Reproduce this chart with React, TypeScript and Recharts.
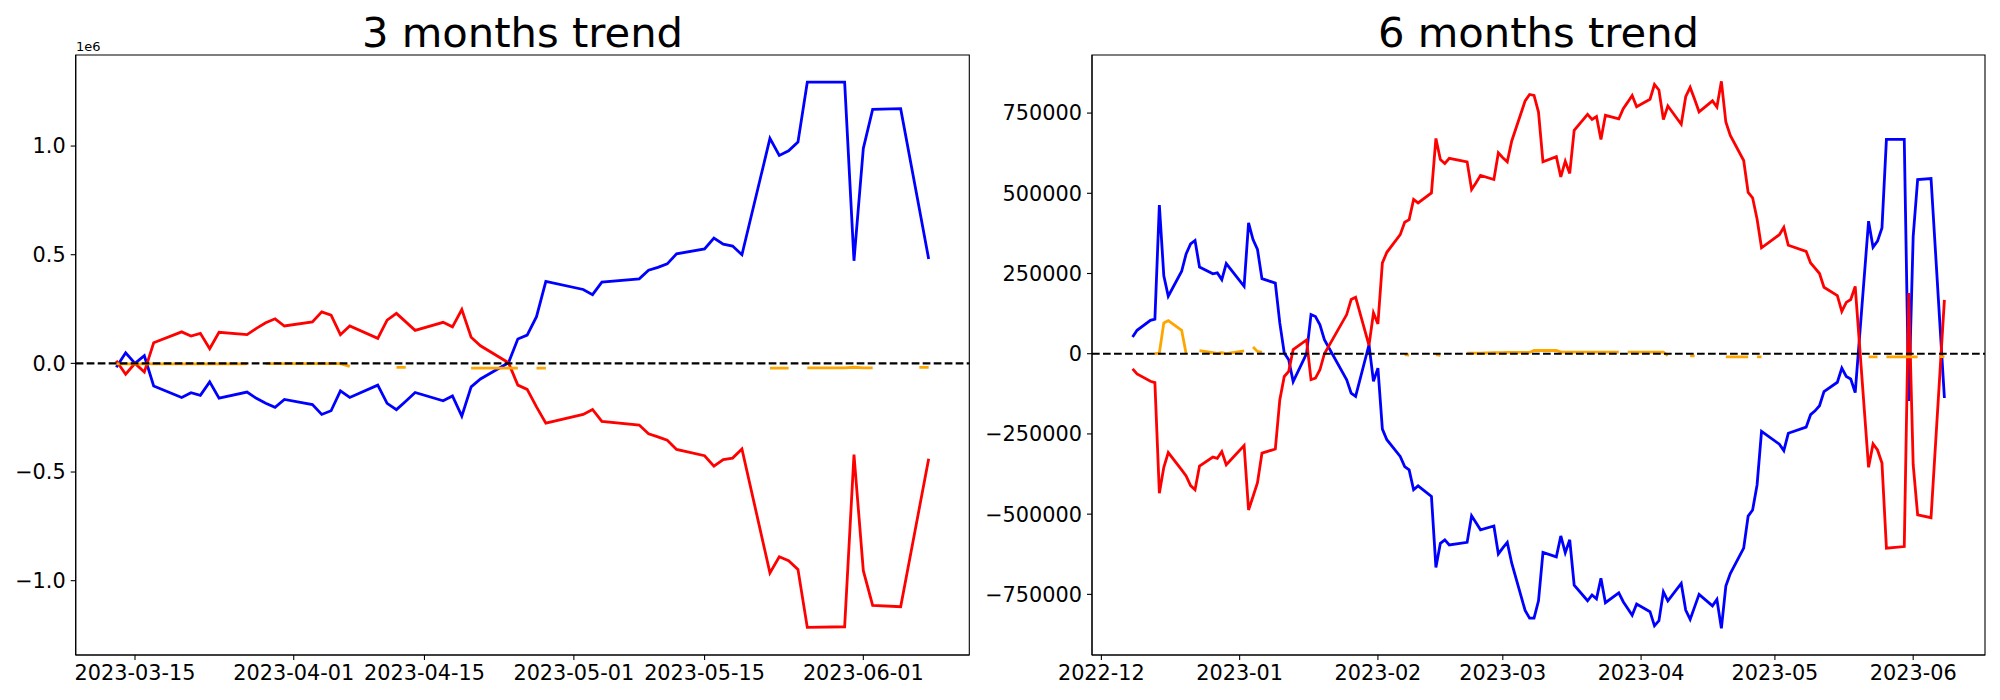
// App.tsx
import { LineChart, Line, XAxis, YAxis, ReferenceLine, ReferenceArea } from 'recharts';

// ---- 3 months trend (business days) ----
const dates3 = [
    '2023-03-13', '2023-03-14', '2023-03-15', '2023-03-16', '2023-03-17',
    '2023-03-20', '2023-03-21', '2023-03-22', '2023-03-23', '2023-03-24',
    '2023-03-27', '2023-03-28', '2023-03-29', '2023-03-30', '2023-03-31',
    '2023-04-03', '2023-04-04', '2023-04-05', '2023-04-06', '2023-04-07',
    '2023-04-10', '2023-04-11', '2023-04-12', '2023-04-13', '2023-04-14',
    '2023-04-17', '2023-04-18', '2023-04-19', '2023-04-20', '2023-04-21',
    '2023-04-24', '2023-04-25', '2023-04-26', '2023-04-27', '2023-04-28',
    '2023-05-02', '2023-05-03', '2023-05-04',
    '2023-05-08', '2023-05-09', '2023-05-10', '2023-05-11', '2023-05-12',
    '2023-05-15', '2023-05-16', '2023-05-17', '2023-05-18', '2023-05-19',
    '2023-05-22', '2023-05-23', '2023-05-24', '2023-05-25', '2023-05-26',
    '2023-05-30', '2023-05-31', '2023-06-01', '2023-06-02',
    '2023-06-05', '2023-06-07', '2023-06-08',
];
const blue3 = [
    -18000, 49000, 0, 35000, -104000,
    -157000, -135000, -147000, -85000, -160000,
    -132000, -161000, -184000, -202000, -166000,
    -190000, -235000, -218000, -127000, -157000,
    -100000, -184000, -213000, -174000, -134000,
    -172000, -150000, -243000, -108000, -72000,
    3000, 112000, 130000, 215000, 377000,
    340000, 316000, 374000,
    389000, 429000, 442000, 458000, 504000,
    527000, 577000, 549000, 540000, 500000,
    1035000, 957000, 978000, 1018000, 1294000,
    1294000, 472000, 989000, 1169000,
    1172000, 711000, 480000,
];
const red3 = [
    12000, -50000, 0, -40000, 95000,
    145000, 126000, 138000, 67000, 143000,
    132000, 161000, 187000, 205000, 172000,
    191000, 237000, 222000, 132000, 172000,
    115000, 199000, 230000, 191000, 152000,
    189000, 168000, 248000, 120000, 81000,
    3000, -100000, -120000, -200000, -275000,
    -235000, -212000, -267000,
    -284000, -324000, -338000, -354000, -396000,
    -425000, -473000, -443000, -436000, -394000,
    -964000, -890000, -908000, -948000, -1215000,
    -1212000, -420000, -954000, -1114000,
    -1120000, -666000, -439000,
];
const orange3 = [
    -2000, -2000, -2000, -2000, -2000,
    -2000, -2000, -2000, -2000, -2000,
    -2000, null, -1000, -1000, -1000,
    -1000, -1000, -1000, -1000, -14000,
    null, null, -18000, -18000, null,
    null, null, null, -22000, -22000,
    -22000, -22000, null, -22000, -22000,
    null, null, null,
    null, null, null, null, null,
    null, null, null, null, null,
    -22000, -22000, -22000, null, -21000,
    -21000, -18000, -21000, -21000,
    null, -18000, -18000,
];

// ---- 6 months trend ----
const dates6 = [
    '2022-12-08', '2022-12-09',
    '2022-12-12', '2022-12-13', '2022-12-14', '2022-12-15', '2022-12-16',
    '2022-12-19', '2022-12-20', '2022-12-21', '2022-12-22', '2022-12-23',
    '2022-12-26', '2022-12-27', '2022-12-28', '2022-12-29',
    '2023-01-02', '2023-01-03', '2023-01-04', '2023-01-05', '2023-01-06',
    '2023-01-09', '2023-01-10', '2023-01-11', '2023-01-12', '2023-01-13',
    '2023-01-16', '2023-01-17', '2023-01-18', '2023-01-19', '2023-01-20',
    '2023-01-25', '2023-01-26', '2023-01-27',
    '2023-01-30', '2023-01-31', '2023-02-01', '2023-02-02', '2023-02-03',
    '2023-02-06', '2023-02-07', '2023-02-08', '2023-02-09', '2023-02-10',
    '2023-02-13', '2023-02-14', '2023-02-15', '2023-02-16', '2023-02-17',
    '2023-02-21', '2023-02-22', '2023-02-23', '2023-02-24',
    '2023-02-27', '2023-02-28', '2023-03-01', '2023-03-02', '2023-03-03',
    '2023-03-06', '2023-03-07', '2023-03-08', '2023-03-09', '2023-03-10',
    '2023-03-13', '2023-03-14', '2023-03-15', '2023-03-16', '2023-03-17',
    '2023-03-20', '2023-03-21', '2023-03-22', '2023-03-23', '2023-03-24',
    '2023-03-27', '2023-03-28', '2023-03-29', '2023-03-30', '2023-03-31',
    '2023-04-03', '2023-04-04', '2023-04-05', '2023-04-06', '2023-04-07',
    '2023-04-10', '2023-04-11', '2023-04-12', '2023-04-13', '2023-04-14',
    '2023-04-17', '2023-04-18', '2023-04-19', '2023-04-20', '2023-04-21',
    '2023-04-24', '2023-04-25', '2023-04-26', '2023-04-27', '2023-04-28',
    '2023-05-02', '2023-05-03', '2023-05-04',
    '2023-05-08', '2023-05-09', '2023-05-10', '2023-05-11', '2023-05-12',
    '2023-05-15', '2023-05-16', '2023-05-17', '2023-05-18', '2023-05-19',
    '2023-05-22', '2023-05-23', '2023-05-24', '2023-05-25', '2023-05-26',
    '2023-05-30', '2023-05-31', '2023-06-01', '2023-06-02',
    '2023-06-05', '2023-06-07', '2023-06-08',
];
const blue6 = [
    52000, 73000,
    104000, 108000, 463000, 243000, 179000,
    257000, 311000, 342000, 353000, 270000,
    249000, 252000, 231000, 281000,
    210000, 408000, 356000, 325000, 234000,
    220000, 96000, 2000, -19000, -87000,
    0, 122000, 116000, 90000, 44000,
    -81000, -123000, -133000,
    28000, -86000, -45000, -235000, -268000,
    -320000, -352000, -362000, -424000, -412000,
    -445000, -666000, -591000, -580000, -596000,
    -588000, -505000, -527000, -549000,
    -537000, -624000, -605000, -588000, -653000,
    -800000, -824000, -824000, -770000, -619000,
    -633000, -568000, -620000, -580000, -721000,
    -770000, -752000, -764000, -700000, -776000,
    -745000, -773000, -794000, -815000, -780000,
    -804000, -848000, -832000, -742000, -770000,
    -716000, -799000, -828000, -789000, -750000,
    -786000, -766000, -856000, -724000, -685000,
    -606000, -506000, -487000, -409000, -242000,
    -282000, -302000, -248000,
    -229000, -190000, -178000, -162000, -118000,
    -89000, -45000, -71000, -79000, -121000,
    413000, 332000, 351000, 392000, 668000,
    668000, -147000, 366000, 543000,
    546000, 90000, -138000,
];
const red6 = [
    -47000, -63000,
    -86000, -90000, -435000, -354000, -308000,
    -362000, -381000, -411000, -424000, -350000,
    -322000, -326000, -305000, -346000,
    -286000, -487000, -445000, -402000, -310000,
    -297000, -144000, -71000, -55000, 13000,
    43000, -81000, -76000, -50000, 0,
    122000, 169000, 176000,
    26000, 127000, 93000, 283000, 316000,
    371000, 410000, 418000, 481000, 470000,
    501000, 671000, 605000, 593000, 609000,
    598000, 512000, 533000, 556000,
    543000, 626000, 611000, 598000, 663000,
    788000, 808000, 805000, 753000, 598000,
    614000, 551000, 600000, 562000, 696000,
    746000, 730000, 739000, 668000, 743000,
    732000, 764000, 784000, 805000, 770000,
    793000, 839000, 822000, 730000, 772000,
    715000, 801000, 830000, 793000, 754000,
    788000, 769000, 849000, 722000, 680000,
    602000, 503000, 486000, 420000, 330000,
    371000, 394000, 338000,
    319000, 283000, 267000, 250000, 207000,
    181000, 132000, 160000, 169000, 210000,
    -354000, -281000, -300000, -341000, -606000,
    -601000, 189000, -346000, -502000,
    -511000, -58000, 168000,
];
const orange6 = [
    null, null,
    null, 0, 2000, 96000, 103000,
    73000, 0, null, null, 10000,
    3000, 1000, 3000, 0,
    9000, null, 21000, 7000, 4000,
    null, null, null, null, null,
    null, null, null, null, null,
    null, null, null,
    null, null, null, null, null,
    null, -3000, -4000, null, null,
    null, -3000, -5000, null, null,
    2000, 2000, 2000, 2000,
    3000, 3000, 3000, 4000, 4000,
    4000, 4000, 10000, 10000, 10000,
    10000, 5000, 5000, 5000, 5000,
    5000, 5000, 5000, 5000, 5000,
    5000, null, 5000, 5000, 5000,
    5000, 5000, 5000, 5000, -6000,
    null, null, -7000, -7000, null,
    null, null, null, -10000, -10000,
    -10000, -10000, null, -10000, -10000,
    null, null, null,
    null, null, null, null, null,
    null, null, null, null, null,
    -10000, -10000, -10000, null, -10000,
    -10000, -10000, -10000, -10000,
    null, -9000, -9000,
];

// tick labels
const xTicks3 = ['2023-03-15', '2023-04-01', '2023-04-15', '2023-05-01', '2023-05-15', '2023-06-01'];
const xTicks6 = ['2022-12-01', '2023-01-01', '2023-02-01', '2023-03-01', '2023-04-01', '2023-05-01', '2023-06-01'];
const yTicks3 = [-1000000, -500000, 0, 500000, 1000000];
const yTicks6 = [-750000, -500000, -250000, 0, 250000, 500000, 750000];

const DAY = 86400000;
const toDay = (s: string) => Date.parse(s) / DAY;
const FONT = '"DejaVu Sans", sans-serif';
const minus = (s: string) => s.replace('-', '\u2212');

function buildRows(dates: string[], blue: number[], red: number[], orange: (number | null)[]) {
    return dates.map((d, i) => ({ t: toDay(d), blue: blue[i], red: red[i], orange: orange[i] }));
}

type PanelProps = {
    rows: any[];
    left: number;
    width: number;
    yAxisWidth: number;
    marginRight: number;
    xDomain: [number, number];
    xTicks: number[];
    xFmt: (v: number) => string;
    yDomain: [number, number];
    yTicks: number[];
    yFmt: (v: number) => string;
};

function Panel(p: PanelProps) {
    const tickStyle = { fill: '#000', fontSize: 20.8, fontFamily: FONT };
    return (
        <div style={{ position: 'absolute', left: p.left, top: 0 }}>
            <LineChart
                width={p.width}
                height={700}
                data={p.rows}
                margin={{ top: 55, right: p.marginRight, left: 0, bottom: 0 }}
            >
                <XAxis
                    dataKey="t"
                    type="number"
                    domain={p.xDomain}
                    allowDataOverflow
                    ticks={p.xTicks}
                    interval={0}
                    tickFormatter={p.xFmt}
                    height={45}
                    tickSize={5}
                    tickMargin={5}
                    tick={tickStyle}
                    stroke="#000"
                    axisLine={{ stroke: '#000', strokeWidth: 1.1 }}
                    tickLine={{ stroke: '#000', strokeWidth: 1.1 }}
                />
                <YAxis
                    type="number"
                    domain={p.yDomain}
                    allowDataOverflow
                    ticks={p.yTicks}
                    interval={0}
                    tickFormatter={p.yFmt}
                    width={p.yAxisWidth}
                    tickSize={5}
                    tickMargin={5}
                    tick={tickStyle}
                    stroke="#000"
                    axisLine={{ stroke: '#000', strokeWidth: 1.1 }}
                    tickLine={{ stroke: '#000', strokeWidth: 1.1 }}
                />
                {/* axes frame (matplotlib box) */}
                <ReferenceArea
                    x1={p.xDomain[0]}
                    x2={p.xDomain[1]}
                    y1={p.yDomain[0]}
                    y2={p.yDomain[1]}
                    fill="none"
                    stroke="#000"
                    strokeWidth={1.1}
                    ifOverflow="visible"
                />
                <Line type="linear" dataKey="blue" stroke="#0000ff" strokeWidth={2.8} dot={false} isAnimationActive={false} />
                <Line type="linear" dataKey="red" stroke="#ff0000" strokeWidth={2.8} dot={false} isAnimationActive={false} />
                <Line type="linear" dataKey="orange" stroke="#ffa500" strokeWidth={2.8} dot={false} connectNulls={false} isAnimationActive={false} />
                <ReferenceLine y={0} stroke="#000" strokeWidth={2.1} strokeDasharray="7.7 3.3" />
            </LineChart>
        </div>
    );
}

export default function App() {
    const rows3 = buildRows(dates3, blue3, red3, orange3);
    const rows6 = buildRows(dates6, blue6, red6, orange6);

    // matplotlib-style 5% margins around the data range
    const d0 = toDay('2023-03-15');
    const m0 = toDay('2022-12-01');
    const fmtDate = (n: number) => (v: number) => new Date(Math.round(v) * DAY).toISOString().slice(0, n);

    return (
        <div style={{ position: 'absolute', left: 0, top: 0, width: 2000, height: 700, background: '#fff', overflow: 'hidden' }}>
            <Panel
                rows={rows3}
                left={0}
                width={975}
                yAxisWidth={75.7}
                marginRight={5.7}
                xDomain={[d0 - 6.35, d0 + 89.35]}
                xTicks={xTicks3.map(toDay)}
                xFmt={fmtDate(10)}
                yDomain={[-1342000, 1419000]}
                yTicks={yTicks3}
                yFmt={(v) => minus((v / 1e6).toFixed(1))}
            />
            <Panel
                rows={rows6}
                left={975}
                width={1025}
                yAxisWidth={117}
                marginRight={15}
                xDomain={[m0 - 2.1, m0 + 198.1]}
                xTicks={xTicks6.map(toDay)}
                xFmt={fmtDate(7)}
                yDomain={[-939000, 931000]}
                yTicks={yTicks6}
                yFmt={(v) => minus(String(v))}
            />
            {/* titles and the offset label */}
            <svg width={2000} height={60} style={{ position: 'absolute', left: 0, top: 0, pointerEvents: 'none' }}>
                <text x={522.5} y={46.5} textAnchor="middle" fontFamily={FONT} fontSize={41.7} fill="#000">3 months trend</text>
                <text x={1538.5} y={46.5} textAnchor="middle" fontFamily={FONT} fontSize={41.7} fill="#000">6 months trend</text>
                <text x={76} y={51} fontFamily={FONT} fontSize={13} fill="#000">1e6</text>
            </svg>
        </div>
    );
}
